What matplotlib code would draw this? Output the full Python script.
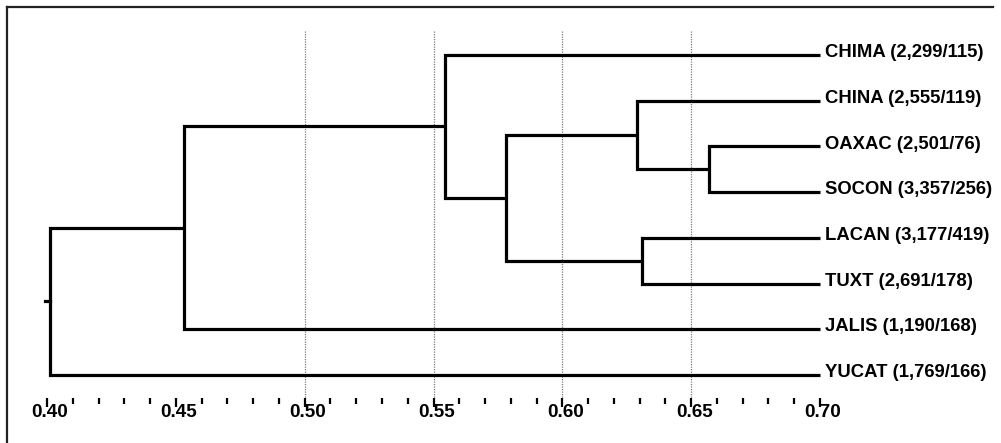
import matplotlib
matplotlib.use('Agg')
import matplotlib.pyplot as plt
from matplotlib.lines import Line2D
from matplotlib.ticker import FixedLocator, NullLocator

plt.rcParams['font.family'] = ['Liberation Sans', 'DejaVu Sans']

# leaves, top to bottom
leaves = ['CHIMA (2,299/115)', 'CHINA (2,555/119)', 'OAXAC (2,501/76)',
          'SOCON (3,357/256)', 'LACAN (3,177/419)', 'TUXT (2,691/178)',
          'JALIS (1,190/168)', 'YUCAT (1,769/166)']

# merges: (child a, child b, similarity); ints are leaves, 'nK' is the K-th merge
merges = [
    (2, 3, 0.657),
    (4, 5, 0.631),
    (1, 'n0', 0.629),
    ('n2', 'n1', 0.578),
    (0, 'n3', 0.5545),
    ('n4', 6, 0.453),
    ('n5', 7, 0.401),
]

leaf_x = 0.70
major_ticks = [0.40, 0.45, 0.50, 0.55, 0.60, 0.65, 0.70]
tick_labels = ['0.40', '0.45', '0.50', '0.55', '0.60', '0.65', '0.70']
grid_x = [0.50, 0.55, 0.60, 0.65]

W, H = 1001, 443
fig = plt.figure(figsize=(W / 100, H / 100), dpi=100)

# axes fills the width; x scale: 0.40 -> 47px, 0.70 -> 820px
ppu = (820 - 47) / 0.30
x0 = 0.40 - 47 / ppu
x1 = 0.40 + (W - 47) / ppu
# y: leaf i at 55 + 45.71*i px from top, axes bottom at 398px
step = 45.71
bottom_px = 398
ax = fig.add_axes([0, (H - bottom_px) / H, 1, bottom_px / H])
ax.set_xlim(x0, x1)
ax.set_ylim((bottom_px - 55) / step, -55 / step)

for s in ax.spines.values():
    s.set_visible(False)
ax.yaxis.set_major_locator(NullLocator())

# dotted grid lines
ax.vlines(grid_x, (31 - 55) / step, (bottom_px - 55) / step,
          colors='#7a7a7a', linestyles=(0, (1, 1)), linewidth=0.9)

# dendrogram
pos = {i: (leaf_x, i) for i in range(len(leaves))}
lw = 2.3
for k, (a, b, h) in enumerate(merges):
    xa, ya = pos[a]
    xb, yb = pos[b]
    ax.plot([xa, h, h, xb], [ya, ya, yb, yb], color='black', lw=lw,
            solid_joinstyle='miter', solid_capstyle='butt', clip_on=False)
    pos['n%d' % k] = (h, (ya + yb) / 2)
rx, ry = pos['n%d' % (len(merges) - 1)]
ax.plot([rx - 0.0018, rx], [ry, ry], color='black', lw=lw, clip_on=False)

for i, name in enumerate(leaves):
    ax.text(leaf_x + 5 / ppu, i - 0.05, name, ha='left', va='center',
            fontsize=13.3, fontweight='bold')

# ticks
minor_ticks = [m + k * 0.01 for m in major_ticks[:-1] for k in range(1, 5)]
ax.xaxis.set_major_locator(FixedLocator(major_ticks))
ax.xaxis.set_minor_locator(FixedLocator(minor_ticks))
ax.tick_params(axis='x', which='major', length=6.8, width=1.6, direction='out',
               labelbottom=False, color='black')
ax.tick_params(axis='x', which='minor', length=4.4, width=1.6, direction='out',
               color='black')
lab_y = (412.5 - 55) / step
for v, t in zip(major_ticks, tick_labels):
    ax.text(v + 3 / ppu, lab_y, t, ha='center', va='center',
            fontsize=13.6, fontweight='bold')

# frame (top and left edges)
fig.add_artist(Line2D([7 / W, 993 / W], [1 - 7 / H, 1 - 7 / H],
                      transform=fig.transFigure, color='#222222', lw=1.6))
fig.add_artist(Line2D([7 / W, 7 / W], [1 - 7 / H, 0],
                      transform=fig.transFigure, color='#222222', lw=1.6))

fig.savefig('out.png', dpi=100)
